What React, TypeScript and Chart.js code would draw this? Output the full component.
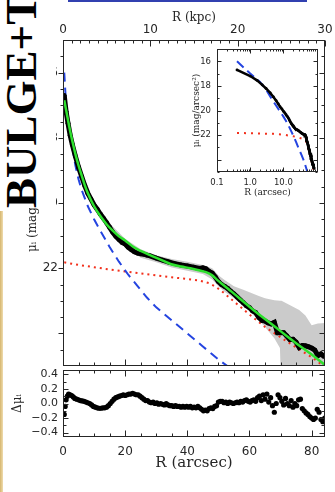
import React, { useEffect, useRef } from "react";
import { Chart, registerables } from "chart.js";
Chart.register(...registerables);

const SANS = "'DejaVu Sans', sans-serif";
const SERIF = "'DejaVu Serif', serif";
const INK = "#262626";
const RED = "#f2301c";
const BLUE = "#2444e0";
const GREEN = "#2ee02e";
const GREY = "#cbcbcb";

// axis ranges & tick labels
const X_MAX = 84.3; // arcsec at right edge
const KPC_MAX = 30;
const MU_MIN = 15;
const MU_MAX = 25;
const RES_MIN = -0.46;
const RES_MAX = 0.46;
const kpcTicks = [0, 10, 20, 30];
const arcsecTicks = [0, 20, 40, 60, 80];
const muTicks = [16, 18, 20, 22];
const resTicks = [-0.4, -0.2, 0, 0.2, 0.4];
const insetXTicks = [0.1, 1, 10];
const insetXLabels = ["0.1", "1.0", "10.0"];

// observed profile (black)
const profileR = [0.4, 1, 1.6, 2.3, 3, 4, 5, 6, 7, 8, 9, 10, 11, 12, 13, 14, 15, 16, 17, 18, 19, 20, 21, 22, 23, 24, 25, 26, 27, 28, 30, 32, 34, 36, 38, 40, 42, 44, 45, 46, 47, 48, 49, 50, 51, 52, 53, 54, 55, 56, 57, 58, 59, 60, 61, 62, 63, 64, 65, 66, 67, 68, 69, 70, 71, 72, 73, 74, 75, 76, 77, 78, 79, 80, 81, 82, 83, 84];
const profileMu = [16.7, 17.2, 17.55, 17.92, 18.21, 18.57, 18.9, 19.19, 19.47, 19.71, 19.88, 20.06, 20.19, 20.34, 20.47, 20.6, 20.75, 20.9, 21.02, 21.12, 21.21, 21.26, 21.36, 21.43, 21.5, 21.54, 21.56, 21.57, 21.6, 21.62, 21.69, 21.75, 21.81, 21.86, 21.9, 21.93, 21.97, 22.01, 21.99, 22.02, 22.1, 22.15, 22.27, 22.41, 22.5, 22.56, 22.62, 22.71, 22.79, 22.88, 22.97, 23.06, 23.15, 23.21, 23.31, 23.36, 23.51, 23.6, 23.62, 23.68, 23.71, 23.66, 23.98, 23.98, 23.98, 24.08, 24.19, 24.18, 24.27, 24.43, 24.37, 24.38, 24.41, 24.45, 24.51, 24.68, 24.63, 24.71];

// total model (green)
const modelR = [0.4, 1, 2, 3, 4, 5, 6, 7, 8, 10, 12, 14, 16, 18, 20, 22.7, 25, 28, 31, 34.6, 38, 41, 44, 46, 48, 49.5, 51, 53, 55, 60, 65, 70, 75, 80, 84.3];
const modelMu = [16.85, 17.15, 17.65, 18.1, 18.5, 18.85, 19.15, 19.45, 19.7, 20.1, 20.4, 20.65, 20.85, 21.02, 21.15, 21.35, 21.47, 21.6, 21.72, 21.87, 21.95, 22.0, 22.07, 22.12, 22.22, 22.35, 22.47, 22.62, 22.78, 23.18, 23.56, 23.93, 24.3, 24.65, 24.97];

// bulge component (blue dashed)
const bulgeR = [0.4, 1, 2, 3, 4, 5, 6, 8, 10, 12, 15, 18, 21, 24, 27, 30, 35, 40, 45, 50, 55, 60];
const bulgeMu = [16.0, 17.0, 17.7, 18.3, 18.85, 19.27, 19.6, 20.1, 20.5, 20.85, 21.35, 21.8, 22.2, 22.55, 22.9, 23.2, 23.6, 24.0, 24.4, 24.8, 25.15, 25.5];

// disk component (red dotted)
const diskR = [0.4, 5, 10, 15, 20, 25, 30, 35, 40, 44, 47, 49, 51, 53, 55, 60, 65, 70, 75, 80, 84.3];
const diskMu = [21.82, 21.9, 21.97, 22.04, 22.1, 22.16, 22.22, 22.28, 22.33, 22.38, 22.46, 22.56, 22.7, 22.86, 23.02, 23.42, 23.8, 24.12, 24.43, 24.73, 25.03];

// uncertainty band (grey)
const bandR = [0.4, 5, 10, 15, 20, 25, 30, 35, 40, 45, 48, 50, 52, 55, 58, 60, 63, 65, 68, 69.8, 70.3, 72, 76, 78, 80, 82, 84.3];
const bandUp = [16.6, 18.78, 19.95, 20.62, 21.1, 21.42, 21.6, 21.72, 21.8, 21.9, 22.0, 22.22, 22.36, 22.55, 22.66, 22.74, 22.85, 22.92, 22.98, 23.0, 23.0, 23.08, 23.28, 23.45, 23.75, 23.7, 23.68];
const bandLo = [16.8, 19.02, 20.2, 20.85, 21.35, 21.68, 21.82, 21.98, 22.08, 22.18, 22.35, 22.55, 22.72, 22.92, 23.15, 23.32, 23.6, 23.8, 24.15, 24.45, 26, 26, 26, 26, 26, 26, 26];

// residuals (lower panel)
const resR = [0.4, 0.7, 1.0, 1.4, 1.8, 2.3, 2.8, 3.3, 3.8, 4.4, 5.0, 5.6, 6.2, 6.8, 7.4, 8.0, 8.6, 9.2, 9.8, 10.4, 11.0, 11.6, 12.2, 12.8, 13.4, 14.0, 14.6, 15.2, 15.8, 16.4, 17.0, 17.6, 18.2, 18.8, 19.4, 20.0, 20.6, 21.2, 21.8, 22.4, 23.0, 23.6, 24.2, 24.8, 25.4, 26.0, 26.6, 27.2, 27.8, 28.4, 29.0, 29.6, 30.2, 30.8, 31.4, 32.0, 32.6, 33.2, 33.8, 34.4, 35.0, 35.6, 36.2, 36.8, 37.4, 38.0, 38.6, 39.2, 39.8, 40.4, 41.0, 41.6, 42.2, 42.8, 43.4, 44.0, 44.6, 45.2, 45.8, 46.4, 47.0, 47.6, 48.2, 48.8, 49.4, 50.0, 50.6, 51.2, 51.8, 52.4, 53.0, 53.6, 54.2, 54.8, 55.4, 56.0, 56.6, 57.2, 57.8, 58.4, 59.0, 59.6, 60.2, 60.8, 61.4, 62.0, 62.6, 63.2, 63.8, 64.4, 65.0, 65.6, 66.2, 66.8, 67.4, 68.0, 68.6, 69.2, 69.8, 70.4, 71.0, 71.6, 72.2, 72.8, 73.4, 74.0, 74.6, 75.2, 75.8, 76.4, 77.0, 77.6, 78.2, 78.8, 79.4, 80.0, 80.6, 81.2, 81.8, 82.4, 83.0, 83.6, 84.2];
const resVal = [-0.15, -0.04, 0.05, 0.1, 0.13, 0.12, 0.11, 0.09, 0.07, 0.06, 0.05, 0.04, 0.035, 0.03, 0.02, 0.01, 0.0, -0.02, -0.04, -0.05, -0.06, -0.065, -0.065, -0.06, -0.06, -0.05, -0.03, 0.0, 0.03, 0.06, 0.08, 0.09, 0.1, 0.11, 0.12, 0.11, 0.12, 0.13, 0.13, 0.14, 0.13, 0.12, 0.12, 0.1, 0.08, 0.06, 0.04, 0.04, 0.02, 0.01, 0.02, 0.0, 0.01, -0.01, 0.0, -0.01, -0.02, 0.0, -0.02, -0.03, -0.03, -0.04, -0.03, -0.04, -0.04, -0.05, -0.04, -0.05, -0.04, -0.05, -0.04, -0.06, -0.05, -0.06, -0.04, -0.06, -0.08, -0.1, -0.09, -0.1, -0.07, -0.06, -0.07, -0.04, -0.03, 0.02, 0.03, 0.03, 0.01, 0.02, 0.0, 0.02, 0.01, 0.0, 0.01, 0.02, 0.01, 0.03, 0.02, 0.04, 0.05, 0.03, 0.02, 0.04, 0.05, 0.03, 0.08, 0.1, 0.04, 0.12, 0.06, 0.13, 0.02, 0.08, -0.03, -0.12, 0.0, 0.12, 0.08, 0.03, -0.02, 0.07, 0.0, -0.03, 0.04, -0.05, 0.0, -0.03, 0.05, 0.06, -0.07, -0.1, -0.13, -0.15, -0.18, -0.2, -0.22, -0.2, -0.08, -0.12, -0.22, -0.25, -0.2];

function pts(xs: number[], ys: number[]) {
  return xs.map((x, i) => ({ x, y: ys[i] }));
}
function range(a: number, b: number, s: number) {
  const out: number[] = [];
  for (let v = a; v <= b + 1e-9; v += s) out.push(+v.toFixed(4));
  return out;
}

type Edge = "left" | "right" | "top" | "bottom";
interface TickSet {
  scale: string;
  edges: Edge[];
  out?: Edge[];
  major: number[];
  minor: number[];
  majorLen: number;
  minorLen: number;
}

const framePlugin = {
  id: "frame",
  beforeDraw(chart: any, _a: any, opts: any) {
    if (!opts || !opts.background) return;
    const a = chart.chartArea;
    const ctx = chart.ctx;
    ctx.save();
    ctx.fillStyle = opts.background;
    ctx.fillRect(a.left, a.top, a.right - a.left, a.bottom - a.top);
    ctx.restore();
  },
  afterDatasetsDraw(chart: any, _a: any, opts: any) {
    const a = chart.chartArea;
    const ctx = chart.ctx;
    const L = Math.round(a.left) + 0.5;
    const R = Math.round(a.right) - 0.5;
    const T = Math.round(a.top) + 0.5;
    const B = Math.round(a.bottom) - 0.5;
    ctx.save();
    ctx.strokeStyle = INK;
    ctx.lineWidth = 1;
    ctx.strokeRect(L, T, R - L, B - T);
    for (const set of (opts.ticks || []) as TickSet[]) {
      const sc = chart.scales[set.scale];
      const groups: [number[], number][] = [
        [set.major, set.majorLen],
        [set.minor, set.minorLen],
      ];
      const horiz = sc.isHorizontal();
      for (const edge of set.edges) {
        const outward = (set.out || []).includes(edge);
        for (const [vals, len] of groups) {
          for (const v of vals) {
            const raw = sc.getPixelForValue(v);
            if (horiz ? raw < a.left - 0.5 || raw > a.right + 0.5 : raw < a.top - 0.5 || raw > a.bottom + 0.5) continue;
            const p = Math.round(raw) + 0.5;
            ctx.beginPath();
            if (edge === "left") {
              ctx.moveTo(L, p);
              ctx.lineTo(L + (outward ? -len : len), p);
            } else if (edge === "right") {
              ctx.moveTo(R, p);
              ctx.lineTo(R + (outward ? len : -len), p);
            } else if (edge === "top") {
              ctx.moveTo(p, T);
              ctx.lineTo(p, T + (outward ? -len : len));
            } else {
              ctx.moveTo(p, B);
              ctx.lineTo(p, B + (outward ? len : -len));
            }
            ctx.stroke();
          }
        }
      }
    }
    ctx.restore();
  },
};

function fixSize(size: number) {
  return (s: any) => {
    if (s.isHorizontal()) s.height = size;
    else s.width = size;
    s.paddingLeft = 0;
    s.paddingRight = 0;
    s.paddingTop = 0;
    s.paddingBottom = 0;
  };
}
function setTicks(values: number[]) {
  return (s: any) => {
    s.ticks = values.map((v) => ({ value: v }));
  };
}
const noGrid = { display: false, drawTicks: false };
const noBorder = { display: false };

const common = {
  responsive: false,
  animation: false as const,
  events: [] as any[],
};

export default function App() {
  const mainRef = useRef<HTMLCanvasElement>(null);
  const resRef = useRef<HTMLCanvasElement>(null);
  const insetRef = useRef<HTMLCanvasElement>(null);

  useEffect(() => {
    const charts: Chart[] = [];
    const lineDs = { pointRadius: 0, fill: false, tension: 0 };

    charts.push(
      new Chart(mainRef.current as HTMLCanvasElement, {
        type: "line",
        data: {
          datasets: [
            { label: "band upper", data: pts(bandR, bandUp), borderWidth: 0, borderColor: GREY, ...lineDs, order: 10 } as any,
            { label: "band lower", data: pts(bandR, bandLo), borderWidth: 0, borderColor: GREY, pointRadius: 0, tension: 0, fill: "-1", backgroundColor: GREY, order: 10 } as any,
            { label: "disk", data: pts(diskR, diskMu), borderColor: RED, borderWidth: 2, borderDash: [2, 4], ...lineDs, order: 8 } as any,
            { label: "bulge", data: pts(bulgeR, bulgeMu), borderColor: BLUE, borderWidth: 2, borderDash: [9, 6], ...lineDs, order: 6 } as any,
            { label: "data", data: pts(profileR, profileMu), borderColor: "#000", backgroundColor: "#000", borderWidth: 5, pointRadius: 2.4, pointBorderWidth: 0, fill: false, tension: 0, order: 4 } as any,
            { label: "model", data: pts(modelR, modelMu), borderColor: GREEN, borderWidth: 2.5, pointRadius: 0, fill: false, cubicInterpolationMode: "monotone", order: 2 } as any,
          ],
        },
        options: {
          ...common,
          layout: { padding: { left: 0, top: 0, right: 10, bottom: 0 } },
          plugins: {
            legend: { display: false },
            tooltip: { enabled: false },
            frame: {
              ticks: [
                { scale: "x", edges: ["bottom"], major: arcsecTicks, minor: range(5, 80, 5), majorLen: 6, minorLen: 3 },
                { scale: "x2", edges: ["top"], major: kpcTicks, minor: range(1, 29, 1), majorLen: 6, minorLen: 3 },
                { scale: "y", edges: ["left", "right"], out: ["left"], major: range(16, 24, 2), minor: range(15.5, 24.5, 0.5), majorLen: 5, minorLen: 3 },
              ],
            },
          } as any,
          scales: {
            x: { type: "linear", display: false, min: 0, max: X_MAX },
            x2: {
              type: "linear",
              position: "top",
              min: 0,
              max: KPC_MAX,
              grid: noGrid,
              border: noBorder,
              afterBuildTicks: setTicks(kpcTicks),
              afterFit: fixSize(40),
              ticks: { padding: 3, font: { family: SANS, size: 12 }, color: INK, maxRotation: 0, autoSkip: false, callback: (v: any) => String(v) },
              title: { display: true, text: "R (kpc)", font: { family: SERIF, size: 12 }, color: INK, padding: { top: 11, bottom: 0 } },
            },
            y: {
              type: "linear",
              position: "left",
              reverse: true,
              min: MU_MIN,
              max: MU_MAX,
              grid: noGrid,
              border: noBorder,
              afterBuildTicks: setTicks(muTicks),
              afterFit: fixSize(63),
              ticks: { padding: 5, font: { family: SANS, size: 12 }, color: INK, autoSkip: false, callback: (v: any) => String(v) },
              title: { display: true, text: "μᵢ (mag/arcsec²)", font: { family: SERIF, size: 12 }, color: INK, padding: { top: 26, bottom: 0 } },
            },
          } as any,
        },
        plugins: [framePlugin],
      })
    );

    charts.push(
      new Chart(resRef.current as HTMLCanvasElement, {
        type: "scatter",
        data: {
          datasets: [
            { label: "residual", data: pts(resR, resVal), backgroundColor: "#000", borderColor: "#000", pointRadius: 2.6, pointBorderWidth: 0 } as any,
          ],
        },
        options: {
          ...common,
          layout: { padding: { left: 0, top: 20, right: 10, bottom: 0 } },
          plugins: {
            legend: { display: false },
            tooltip: { enabled: false },
            frame: {
              ticks: [
                { scale: "x", edges: ["bottom", "top"], major: arcsecTicks, minor: range(5, 80, 5), majorLen: 6, minorLen: 3 },
                { scale: "y", edges: ["left", "right"], major: resTicks, minor: range(-0.4, 0.4, 0.1), majorLen: 5, minorLen: 3 },
              ],
            },
          } as any,
          scales: {
            x: {
              type: "linear",
              position: "bottom",
              min: 0,
              max: X_MAX,
              grid: noGrid,
              border: noBorder,
              afterBuildTicks: setTicks(arcsecTicks),
              afterFit: fixSize(55),
              ticks: { padding: 8, font: { family: SANS, size: 12 }, color: INK, maxRotation: 0, autoSkip: false, callback: (v: any) => String(v) },
              title: { display: true, text: "R (arcsec)", font: { family: SERIF, size: 15 }, color: INK, padding: { top: 0, bottom: 20 } },
            },
            y: {
              type: "linear",
              position: "left",
              min: RES_MIN,
              max: RES_MAX,
              grid: noGrid,
              border: noBorder,
              afterBuildTicks: setTicks(resTicks),
              afterFit: fixSize(63),
              ticks: {
                padding: 5,
                font: { family: SANS, size: 11 },
                color: INK,
                autoSkip: false,
                callback: (v: any) => (v < 0 ? "−" : "") + Math.abs(v).toFixed(1),
              },
              title: { display: true, text: "Δμᵢ", font: { family: SERIF, size: 12 }, color: INK, padding: { top: 11, bottom: 0 } },
            },
          } as any,
        },
        plugins: [framePlugin],
      })
    );

    charts.push(
      new Chart(insetRef.current as HTMLCanvasElement, {
        type: "line",
        data: {
          datasets: [
            { label: "disk", data: pts(diskR, diskMu), borderColor: RED, borderWidth: 2, borderDash: [2, 5], ...lineDs, order: 8 } as any,
            { label: "bulge", data: pts(bulgeR, bulgeMu), borderColor: BLUE, borderWidth: 2, borderDash: [9, 5], ...lineDs, order: 6 } as any,
            { label: "data", data: pts(profileR, profileMu), borderColor: "#000", backgroundColor: "#000", borderWidth: 2.5, pointRadius: 1.4, pointBorderWidth: 0, fill: false, tension: 0, order: 4 } as any,
          ],
        },
        options: {
          ...common,
          layout: { padding: { left: 0, top: 12, right: 7, bottom: 0 } },
          plugins: {
            legend: { display: false },
            tooltip: { enabled: false },
            frame: {
              background: "#ffffff",
              ticks: [
                { scale: "x", edges: ["bottom", "top"], major: [0.1, 1, 10, 100], minor: [0.2, 0.3, 0.4, 0.5, 0.6, 0.7, 0.8, 0.9, 2, 3, 4, 5, 6, 7, 8, 9, 20, 30, 40, 50, 60, 70, 80, 90], majorLen: 4, minorLen: 2 },
                { scale: "y", edges: ["left", "right"], major: range(16, 24, 2), minor: range(15, 25, 1), majorLen: 4, minorLen: 2 },
              ],
            },
          } as any,
          scales: {
            x: {
              type: "logarithmic",
              position: "bottom",
              min: 0.1,
              max: 110,
              grid: noGrid,
              border: noBorder,
              afterBuildTicks: setTicks(insetXTicks),
              afterFit: fixSize(32),
              ticks: {
                padding: 5.5,
                font: { family: SANS, size: 8.5 },
                color: INK,
                maxRotation: 0,
                autoSkip: false,
                callback: (_v: any, i: number) => insetXLabels[i],
              },
              title: { display: true, text: "R (arcsec)", font: { family: SERIF, size: 9 }, color: INK, padding: { top: 0, bottom: 5.5 } },
            },
            y: {
              type: "linear",
              position: "left",
              reverse: true,
              min: MU_MIN,
              max: MU_MAX,
              grid: noGrid,
              border: noBorder,
              afterBuildTicks: setTicks(muTicks),
              afterFit: fixSize(32),
              ticks: { padding: 6, font: { family: SANS, size: 8.5 }, color: INK, autoSkip: false, callback: (v: any) => String(v) },
              title: { display: true, text: "μᵢ (mag/arcsec²)", font: { family: SERIF, size: 9 }, color: INK, padding: { top: 6.5, bottom: 0 } },
            },
          } as any,
        },
        plugins: [framePlugin],
      })
    );

    return () => {
      charts.forEach((c) => c.destroy());
    };
  }, []);

  return (
    <div style={{ position: "fixed", left: 0, top: 0, width: 335, height: 492, background: "#fff", overflow: "hidden" }}>
      <canvas ref={mainRef} width={335} height={370} style={{ position: "absolute", left: 0, top: 0, width: 335, height: 370, zIndex: 1 }} />
      <canvas ref={resRef} width={335} height={142} style={{ position: "absolute", left: 0, top: 350, width: 335, height: 142, zIndex: 2 }} />
      <canvas ref={insetRef} width={140} height={167} style={{ position: "absolute", left: 185, top: 37, width: 140, height: 167, zIndex: 3 }} />
      <div style={{ position: "absolute", left: 68, top: 0, width: 239, height: 2, background: "#3140b0", zIndex: 4 }} />
      <div style={{ position: "absolute", left: 0, top: 211, width: 3, height: 281, background: "linear-gradient(to right, #d6b66e, #efdcae)", zIndex: 4 }} />
      <div style={{ position: "absolute", left: 0, top: 0, width: 56, height: 208, background: "#fff", overflow: "hidden", zIndex: 5 }}>
        <div
          style={{
            position: "absolute",
            left: -1,
            top: 208,
            transform: "rotate(-90deg)",
            transformOrigin: "0 0",
            whiteSpace: "nowrap",
            fontFamily: "'Liberation Serif', serif",
            fontWeight: 700,
            fontSize: 45,
            lineHeight: "45px",
            color: "#000",
          }}
        >
          BULGE+TR
        </div>
      </div>
    </div>
  );
}
